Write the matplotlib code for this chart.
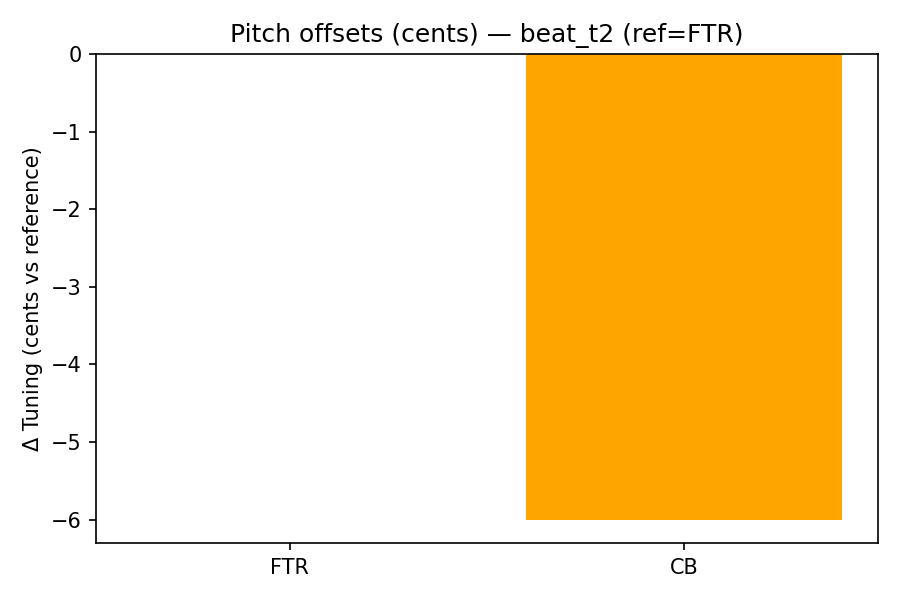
import matplotlib
matplotlib.use("Agg")
import matplotlib.pyplot as plt

# data
labels = ["FTR", "CB"]
offsets = [0.0, -6.0]
colors = ["tab:blue", "orange"]

fig, ax = plt.subplots(figsize=(6, 4), dpi=150)
ax.bar(labels, offsets, color=colors)
ax.set_title("Pitch offsets (cents) — beat_t2 (ref=FTR)")
ax.set_ylabel("Δ Tuning (cents vs reference)")

plt.tight_layout()
plt.savefig("out.png", dpi=150)
plt.close()
